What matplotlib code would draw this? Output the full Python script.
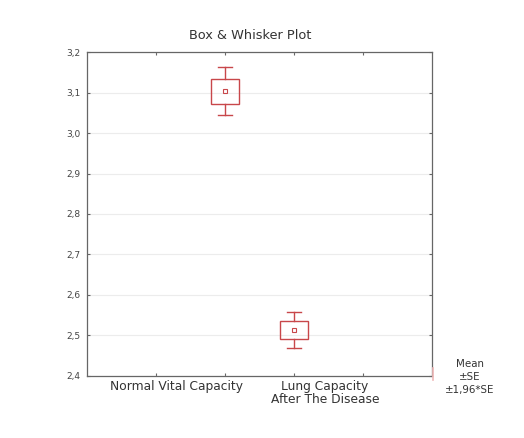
import numpy as np
import matplotlib.pyplot as plt
from matplotlib.ticker import FuncFormatter

# values
groups = ['Normal Vital Capacity', 'Lung Capacity\nAfter The Disease']
group_pos = [2, 3]
label_pos = [1.3, 3.45]
means = [3.103, 2.513]
se = [0.030, 0.023]
ci = [0.059, 0.045]   # 1.96*SE
y_ticks = [2.4, 2.5, 2.6, 2.7, 2.8, 2.9, 3.0, 3.1, 3.2]

red = '#c8474a'
plt.rcParams['font.family'] = ['DejaVu Sans']

fig = plt.figure(figsize=(5.24, 4.38), dpi=100)
ax = fig.add_axes([0.166, 0.142, 0.658, 0.739])

box_w = 0.40
cap_w = 0.20
for x, m, s, c in zip(group_pos, means, se, ci):
    # whiskers (±1.96*SE)
    ax.plot([x, x], [m + s, m + c], color=red, lw=1)
    ax.plot([x, x], [m - s, m - c], color=red, lw=1)
    ax.plot([x - cap_w / 2, x + cap_w / 2], [m + c, m + c], color=red, lw=1)
    ax.plot([x - cap_w / 2, x + cap_w / 2], [m - c, m - c], color=red, lw=1)
    # box (±SE)
    ax.add_patch(plt.Rectangle((x - box_w / 2, m - s), box_w, 2 * s,
                               fill=False, ec=red, lw=1))
    # mean marker
    ax.plot(x, m, marker='s', ms=3, mfc='white', mec=red, mew=0.8)

ax.set_xlim(0, 5)
ax.set_ylim(2.4, 3.2)
ax.set_yticks(y_ticks)
ax.yaxis.set_major_formatter(FuncFormatter(lambda v, p: f'{v:.1f}'.replace('.', ',')))
ax.set_xticks([1, 2, 3, 4])
ax.set_xticklabels([])
ax.tick_params(axis='both', direction='in', length=2, width=0.8, color='#666666',
               top=True, right=True)
ax.tick_params(axis='y', labelsize=6.5, labelcolor='#444444', pad=5)
ax.grid(axis='y', color='#ececec', lw=0.8)
ax.set_axisbelow(True)
for sp in ax.spines.values():
    sp.set_color('#666666')
    sp.set_linewidth(0.9)

for lp, g in zip(label_pos, groups):
    ax.text(lp, 2.39, g, ha='center', va='top', fontsize=8.8, color='#333333',
            linespacing=1.05)

fig.text(0.477, 0.92, 'Box & Whisker Plot', ha='center', va='center',
         fontsize=9.3, color='#333333')

# legend
fig.text(0.897, 0.098, 'Mean\n±SE\n±1,96*SE', ha='center', va='bottom',
         fontsize=7.4, color='#333333', linespacing=1.35)
fig.add_artist(plt.Line2D([0.827, 0.827], [0.132, 0.16], color='#f0b8b8', lw=1.2))

fig.savefig('out.png', dpi=100)
